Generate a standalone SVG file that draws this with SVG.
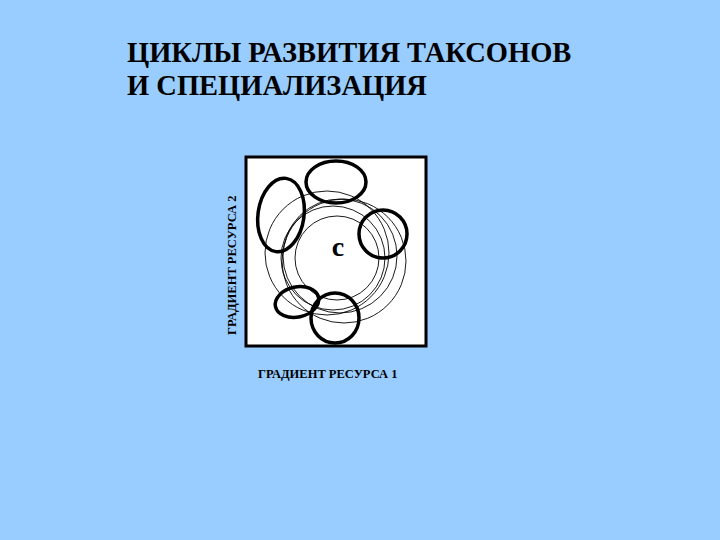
<svg xmlns="http://www.w3.org/2000/svg" width="720" height="540" viewBox="0 0 720 540">
<style>
.t{font-family:"Liberation Serif","DejaVu Serif","Times New Roman",serif;font-weight:bold;fill:#000}
.thick{fill:none;stroke:#000;stroke-width:3.5}
.thin{fill:none;stroke:#000;stroke-width:0.9}
</style>
<rect width="720" height="540" fill="#99ccff"/>
<g id="title">
<text class="t" x="127" y="62" font-size="28.5">ЦИКЛЫ РАЗВИТИЯ ТАКСОНОВ</text>
<text class="t" x="127" y="95" font-size="28.5">И СПЕЦИАЛИЗАЦИЯ</text>
</g>
<g id="box">
<rect x="246" y="157" width="180" height="189" fill="#fff" stroke="#000" stroke-width="3"/>
</g>
<g id="connectors">
<circle class="thin" cx="327" cy="253" r="62"/>
<circle class="thin" cx="344" cy="261" r="62"/>
<circle class="thin" cx="340" cy="256" r="57"/>
<circle class="thin" cx="333" cy="258" r="52"/>
<circle class="thin" cx="337" cy="258" r="42"/>
</g>
<g id="taxa">
<ellipse class="thick" cx="336" cy="182" rx="30" ry="21"/>
<ellipse class="thick" cx="281" cy="215" rx="23" ry="37" transform="rotate(8 281 215)"/>
<ellipse class="thick" cx="383" cy="234" rx="24" ry="24"/>
<ellipse class="thick" cx="297" cy="302" rx="22" ry="15" transform="rotate(-12 297 302)"/>
<ellipse class="thick" cx="335" cy="318" rx="24" ry="25"/>
</g>
<g id="labels">
<text class="t" x="338" y="256" font-size="28" text-anchor="middle">c</text>
<text class="t" x="258" y="378" font-size="12.5">ГРАДИЕНТ РЕСУРСА 1</text>
<text class="t" font-size="12.5" transform="translate(236 335) rotate(-90)">ГРАДИЕНТ РЕСУРСА 2</text>
</g>
</svg>
